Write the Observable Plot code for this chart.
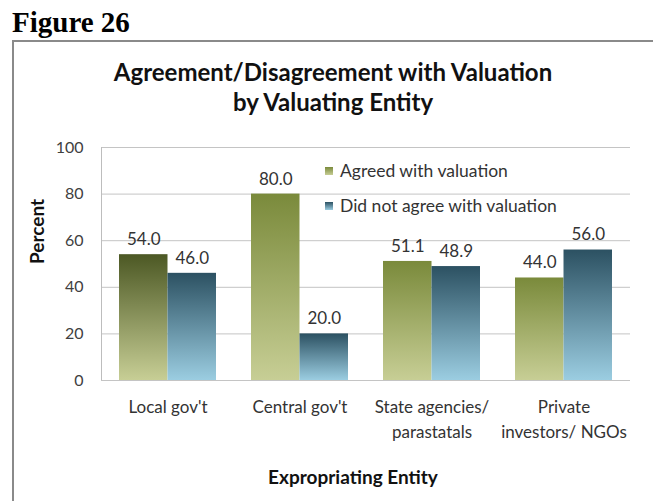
<!DOCTYPE html>
<html><head><meta charset="utf-8">
<script src="https://cdn.jsdelivr.net/npm/d3@7"></script>
<script src="https://cdn.jsdelivr.net/npm/@observablehq/plot@0.6"></script>
<style>
body{margin:0;background:#fff;}
#wrap{position:relative;width:653px;height:501px;overflow:hidden;background:#fff;}
#wrap svg{position:absolute;left:0;top:0;overflow:visible;}
.fig{position:absolute;left:12px;top:4px;font-family:"Liberation Serif","Times New Roman",serif;font-weight:bold;font-size:29px;color:#000;line-height:36px;}
.box{position:absolute;left:12px;top:40px;width:660px;height:480px;border-left:2px solid #8a8a8a;border-top:2px solid #8a8a8a;box-sizing:border-box;}
.title{position:absolute;left:0;width:666px;top:57px;text-align:center;font-family:Lato,sans-serif;font-weight:bold;font-size:24px;line-height:30px;color:#111;}
.legend{position:absolute;left:325px;top:160px;font-family:Lato,sans-serif;font-size:17.5px;color:#333;}
.legend div{height:35px;line-height:22px;white-space:nowrap;}
.legend span.sw{display:inline-block;width:8px;height:8px;margin-right:7px;vertical-align:2px;}
</style></head><body>
<div id="wrap">
  <div class="fig">Figure 26</div>
  <div class="box"></div>
  <div id="plot"></div>
  <div class="title">Agreement/Disagreement with Valuation<br>by Valuating Entity</div>
  <div class="legend" id="legend"></div>
</div>
<script>
const categories = ["Local gov't", "Central gov't", "State agencies/ parastatals", "Private investors/ NGOs"];
const tickLabels = ["Local gov't", "Central gov't", "State agencies/\nparastatals", "Private\ninvestors/ NGOs"];
const series = ["Agreed with valuation", "Did not agree with valuation"];
const agreed = [54.0, 80.0, 51.1, 44.0];
const disagreed = [46.0, 20.0, 48.9, 56.0];
const yTicks = [0, 20, 40, 60, 80, 100];
const xTitle = "Expropriating Entity";
const yTitle = "Percent";

const data = categories.flatMap((c, i) => [
  {category: c, series: series[0], value: agreed[i]},
  {category: c, series: series[1], value: disagreed[i]}
]);

const W = 653, H = 501, ml = 101, mr = 23, mt = 147, mb = 121;
const pIn = 0.2665, pOut = pIn / 2;
const bw = (W - ml - mr) / (categories.length - pIn + 2 * pOut) * (1 - pIn);
const half = bw / 2;

function defs() {
  const d = d3.create("svg:defs");
  const grads = [
    ["gA0", "#4c5824", "#c7ce95"],
    ["gA", "#7a8a3b", "#c7ce95"],
    ["gD", "#2c5162", "#9bcde1"]
  ];
  for (const [id, top, bottom] of grads) {
    const g = d.append("linearGradient").attr("id", id).attr("x1", 0).attr("y1", 0).attr("x2", 0).attr("y2", 1);
    g.append("stop").attr("offset", "0%").attr("stop-color", top);
    g.append("stop").attr("offset", "100%").attr("stop-color", bottom);
  }
  return d.node();
}

function leftLine(index, scales, values, dims) {
  return d3.create("svg:line")
    .attr("x1", dims.marginLeft + 0.5).attr("x2", dims.marginLeft + 0.5)
    .attr("y1", dims.marginTop).attr("y2", dims.height - dims.marginBottom)
    .attr("stroke", "#bdbdbd").node();
}

const A = data.filter(d => d.series === series[0]);
const D = data.filter(d => d.series === series[1]);

const chart = Plot.plot({
  width: W, height: H,
  marginLeft: ml, marginRight: mr, marginTop: mt, marginBottom: mb,
  style: {fontFamily: "Lato, sans-serif", fontSize: "16px", color: "#404040", background: "transparent"},
  x: {domain: categories, paddingInner: pIn, paddingOuter: pOut, axis: null},
  y: {domain: [0, 100], axis: null},
  marks: [
    defs,
    Plot.ruleY(yTicks, {stroke: "#c4c4c4"}),
    leftLine,
    Plot.barY(A.filter(d => d.category === categories[0]), {x: "category", y: "value", fill: "url(#gA0)", insetRight: half, insetLeft: 0}),
    Plot.barY(A.filter(d => d.category !== categories[0]), {x: "category", y: "value", fill: "url(#gA)", insetRight: half, insetLeft: 0}),
    Plot.barY(D, {x: "category", y: "value", fill: "url(#gD)", insetLeft: half, insetRight: 0}),
    Plot.text(A, {x: "category", y: "value", text: d => d.value.toFixed(1), dx: -half / 2, dy: -15, fontSize: 17, fill: "#333"}),
    Plot.text(D, {x: "category", y: "value", text: d => d.value.toFixed(1), dx: half / 2, dy: -15, fontSize: 17, fill: "#333"}),
    Plot.axisY(yTicks, {tickSize: 0, tickPadding: 18, fontSize: 16, label: null, fill: "#404040"}),
    Plot.axisX({tickSize: 0, tickPadding: 15, fontSize: 17, label: null, lineHeight: 1.45, fill: "#333",
      tickFormat: d => tickLabels[categories.indexOf(d)]}),
    Plot.text([yTitle], {frameAnchor: "left", dx: -64, rotate: -90, fontWeight: "bold", fontSize: 19, fill: "#111"}),
    Plot.text([xTitle], {frameAnchor: "bottom", dx: -13, dy: 103, fontWeight: "bold", fontSize: 19, fill: "#111"})
  ]
});
document.getElementById("plot").appendChild(chart);

const legend = document.getElementById("legend");
[["gA", "linear-gradient(#7a8a3b,#c7ce95)"], ["gD", "linear-gradient(#2c5162,#9bcde1)"]].forEach(([id, bg], i) => {
  const row = document.createElement("div");
  const sw = document.createElement("span");
  sw.className = "sw"; sw.style.background = bg;
  row.appendChild(sw);
  row.appendChild(document.createTextNode(series[i]));
  legend.appendChild(row);
});
</script>
</body></html>
